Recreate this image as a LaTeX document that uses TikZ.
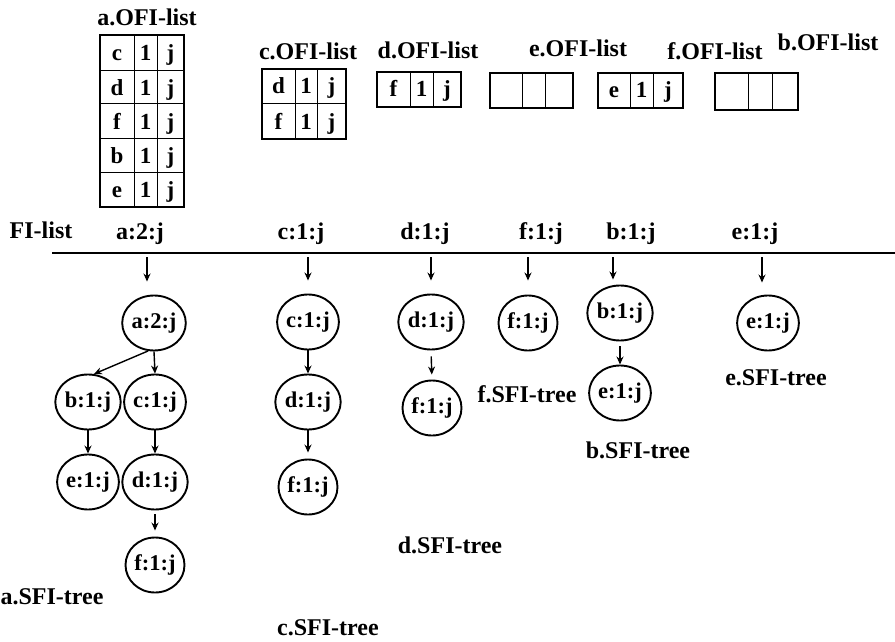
\documentclass[tikz,border=0pt]{standalone}
\usepackage{fontspec}
\setmainfont{Liberation Serif}
\usetikzlibrary{arrows.meta,shapes.geometric}
\begin{document}
\begin{tikzpicture}[x=1pt,y=-1pt,
  lbl/.style={font=\fontsize{24}{26}\selectfont\bfseries, inner sep=0},
  cell/.style={font=\fontsize{23}{24}\selectfont\bfseries, inner sep=0, anchor=base},
  item/.style={ellipse, draw, line width=1.9pt, minimum width=59pt, minimum height=55pt,
    inner sep=0, font=\fontsize{22.5}{24}\selectfont\bfseries},
  arr/.style={-{Stealth[length=8pt,width=7pt]}, line width=1.4pt},
  frame/.style={line width=2.6pt},
  sep/.style={line width=1pt}]
\useasboundingbox (0,0) rectangle (895,642);

% ---------- OFI lists ----------
\node[lbl] (la) at (147,17) {a.OFI-list};
\draw[sep] (134,35) -- (134,207) (157,35) -- (157,207);
\foreach \y in {71,104,138,172} \draw[sep] (100,\y) -- (184,\y);
\draw[frame] (100,35) rectangle (184,207);
\foreach \t [count=\i] in {c,d,f,b,e} {
  \node[cell] (a-\i-1) at (117,{61+34.2*(\i-1)}) {\t};
  \node[cell] (a-\i-2) at (145.5,{61+34.2*(\i-1)}) {1};
  \node[cell] (a-\i-3) at (170.5,{61+34.2*(\i-1)}) {j};
}

\node[lbl] (lc) at (308,51) {c.OFI-list};
\draw[sep] (295,69) -- (295,139) (317,69) -- (317,139) (262,104) -- (346,104);
\draw[frame] (262,69) rectangle (346,139);
\foreach \t [count=\i] in {d,f} {
  \node[cell] (c-\i-1) at (278.5,{94+35*(\i-1)}) {\t};
  \node[cell] (c-\i-2) at (306,{94+35*(\i-1)}) {1};
  \node[cell] (c-\i-3) at (331.5,{94+35*(\i-1)}) {j};
}

\node[lbl] (ld) at (428,50) {d.OFI-list};
\draw[sep] (410,72) -- (410,107) (433,72) -- (433,107);
\draw[frame] (377,72) rectangle (461,107);
\node[cell] (d-1-1) at (393.5,97) {f};
\node[cell] (d-1-2) at (421.5,97) {1};
\node[cell] (d-1-3) at (447,97) {j};

\node[lbl] (le) at (578,48) {e.OFI-list};
\draw[sep] (522,73) -- (522,108) (545,73) -- (545,108);
\draw[frame] (490,73) rectangle (573,108);

\node[lbl] (lf) at (715,51) {f.OFI-list};
\draw[sep] (630,73) -- (630,108) (653,73) -- (653,108);
\draw[frame] (598,73) rectangle (683,108);
\node[cell] (f-1-1) at (614,98) {e};
\node[cell] (f-1-2) at (641.5,98) {1};
\node[cell] (f-1-3) at (668,98) {j};

\node[lbl] (lb) at (828,42) {b.OFI-list};
\draw[sep] (748,73) -- (748,110) (772,73) -- (772,110);
\draw[frame] (715,73) rectangle (798,110);

% ---------- FI-list ----------
\node[lbl] (fi) at (41,230) {FI-list};
\draw[line width=2.6pt] (52,253) -- (895,253);
\node[lbl] (ha) at (140,234) {a:2:j};
\node[lbl] (hc) at (301,234) {c:1:j};
\node[lbl] (hd) at (425,234) {d:1:j};
\node[lbl] (hf) at (541,234) {f:1:j};
\node[lbl] (hb) at (631,234) {b:1:j};
\node[lbl] (he) at (755,234) {e:1:j};
\coordinate (pa) at (147,253);
\coordinate (pc) at (308,253);
\coordinate (pd) at (431,253);
\coordinate (pf) at (528,253);
\coordinate (pb) at (613,253);
\coordinate (pe) at (762,253);

% ---------- SFI trees ----------
\node[item] (aa) at (154,323) {a:2:j};
\node[item] (ab) at (88,402) {b:1:j};
\node[item] (ac) at (155,402) {c:1:j};
\node[item] (ae) at (88,482) {e:1:j};
\node[item] (ad) at (155,482) {d:1:j};
\node[item] (af) at (155,565) {f:1:j};
\node[lbl] (ta) at (52,597) {a.SFI-tree};

\node[item] (cc) at (308,322) {c:1:j};
\node[item] (cd) at (308,402) {d:1:j};
\node[item] (cf) at (308,487) {f:1:j};
\node[lbl] (tc) at (328,628) {c.SFI-tree};

\node[item] (dd) at (431,322) {d:1:j};
\node[item] (df) at (432,408) {f:1:j};
\node[lbl] (td) at (450,545) {d.SFI-tree};

\node[item] (ff) at (528,323) {f:1:j};
\node[lbl] (tf) at (527,394) {f.SFI-tree};

\node[item] (bb) at (620,313) {b:1:j};
\node[item] (be) at (620,393) {e:1:j};
\node[lbl] (tb) at (638,450) {b.SFI-tree};

\node[item] (ee) at (768,323) {e:1:j};
\node[lbl] (te) at (776,378) {e.SFI-tree};

% ---------- connectors ----------
\draw[arr, shorten <=4pt, shorten >=13pt] (pa) -- (pa |- aa.north);
\draw[arr, shorten <=4pt, shorten >=13pt] (pc) -- (pc |- cc.north);
\draw[arr, shorten <=4pt, shorten >=13pt] (pd) -- (pd |- dd.north);
\draw[arr, shorten <=4pt, shorten >=14pt] (pf) -- (pf |- ff.north);
\draw[arr, shorten <=4pt, shorten >=5pt] (pb) -- (pb |- bb.north);
\draw[arr, shorten <=4pt, shorten >=12pt] (pe) -- (pe |- ee.north);

\draw[arr] (aa.258) -- (ab.78);
\draw[arr] (aa.south) -- (ac.north);
\draw[arr] (ab.south) -- (ae.north);
\draw[arr] (ac.south) -- (ad.north);
\draw[arr, shorten <=4pt, shorten >=6pt] (ad.south) -- (af.north);
\draw[arr] (cc.south) -- (cd.north);
\draw[arr, shorten >=6pt] (cd.south) -- (cf.north);
\draw[arr, shorten <=6pt, shorten >=5pt] (dd.south) -- (df.north);
\draw[arr, shorten <=5pt] (bb.south) -- (be.north);
\end{tikzpicture}
\end{document}
